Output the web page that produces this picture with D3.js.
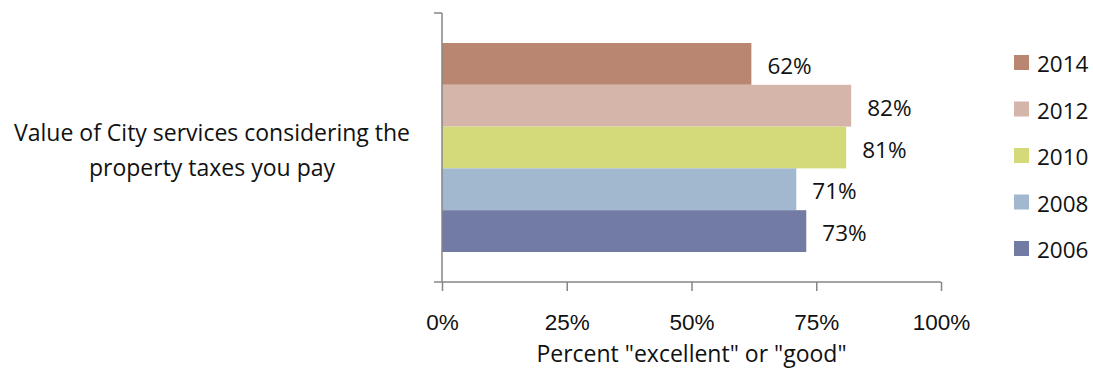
<!DOCTYPE html>
<html>
<head>
<meta charset="utf-8">
<script src="https://cdn.jsdelivr.net/npm/d3@7"></script>
<style>
  html, body { margin: 0; padding: 0; background: #fff; }
  svg { display: block; font-family: "Open Sans", Lato, sans-serif; }
</style>
</head>
<body>
<svg id="chart" width="1093" height="374"></svg>
<script>
// Survey results, one category, five survey years
const category = ["Value of City services considering the", "property taxes you pay"];
const years = ["2014", "2012", "2010", "2008", "2006"];
const values = [62, 82, 81, 71, 73];
const colors = ["#B98672", "#D5B5A9", "#D4DA7A", "#A1B8CE", "#727BA3"];
const xTicks = [0, 25, 50, 75, 100];
const xTitle = 'Percent "excellent" or "good"';

const svg = d3.select("#chart");
const fontSize = 23;
const numSize = 22.5;

const plot = { left: 442, right: 941, top: 13, bottom: 282 };

const x = d3.scaleLinear().domain([0, 100]).range([plot.left, plot.right]);
const y = d3.scaleBand().domain(years).range([43, 252]).padding(0);

// bars
svg.selectAll("rect.bar")
  .data(years)
  .join("rect")
  .attr("class", "bar")
  .attr("x", x(0))
  .attr("y", d => y(d))
  .attr("width", (d, i) => x(values[i]) - x(0))
  .attr("height", y.bandwidth())
  .attr("fill", (d, i) => colors[i]);

// value labels
svg.selectAll("text.val")
  .data(years)
  .join("text")
  .attr("class", "val")
  .attr("x", (d, i) => x(values[i]) + 16)
  .attr("y", d => y(d) + y.bandwidth() / 2 + 10)
  .attr("font-size", numSize)
  .attr("fill", "#111")
  .text((d, i) => values[i] + "%");

// x axis
const xAxis = d3.axisBottom(x)
  .tickValues(xTicks)
  .tickFormat(d => d + "%")
  .tickSize(9)
  .tickPadding(23)
  .tickSizeOuter(0);
const gx = svg.append("g")
  .attr("transform", `translate(0,${plot.bottom})`)
  .call(xAxis);
gx.select(".domain").remove();
gx.selectAll(".tick line").attr("stroke", "#868686").attr("stroke-width", 1.5);
gx.selectAll(".tick text").attr("font-size", numSize).attr("fill", "#111")
  .attr("font-family", null);
gx.append("line")
  .attr("x1", plot.left - 8).attr("x2", plot.right)
  .attr("stroke", "#868686").attr("stroke-width", 1.5);

// y axis line with end tick
const gy = svg.append("g");
gy.append("line")
  .attr("x1", plot.left).attr("x2", plot.left)
  .attr("y1", plot.top).attr("y2", plot.bottom)
  .attr("stroke", "#868686").attr("stroke-width", 1.5);
gy.append("line")
  .attr("x1", plot.left - 8).attr("x2", plot.left)
  .attr("y1", plot.top).attr("y2", plot.top)
  .attr("stroke", "#868686").attr("stroke-width", 1.5);

// category label
svg.append("text")
  .attr("text-anchor", "middle")
  .attr("font-size", fontSize)
  .attr("fill", "#111")
  .selectAll("tspan")
  .data(category)
  .join("tspan")
  .attr("x", 212)
  .attr("y", (d, i) => 141 + i * 35)
  .text(d => d);

// axis title
svg.append("text")
  .attr("x", (plot.left + plot.right) / 2)
  .attr("y", 362)
  .attr("text-anchor", "middle")
  .attr("font-size", fontSize)
  .attr("fill", "#111")
  .text(xTitle);

// legend
const legend = svg.append("g").attr("transform", "translate(1014,0)");
const ly = d3.scalePoint().domain(years).range([62, 248]);
const item = legend.selectAll("g")
  .data(years)
  .join("g")
  .attr("transform", d => `translate(0,${ly(d)})`);
item.append("rect")
  .attr("x", 0).attr("y", -7)
  .attr("width", 15).attr("height", 15)
  .attr("fill", (d, i) => colors[i]);
item.append("text")
  .attr("x", 23).attr("y", 10)
  .attr("font-size", numSize)
  .attr("fill", "#111")
  .text(d => d);
</script>
</body>
</html>
